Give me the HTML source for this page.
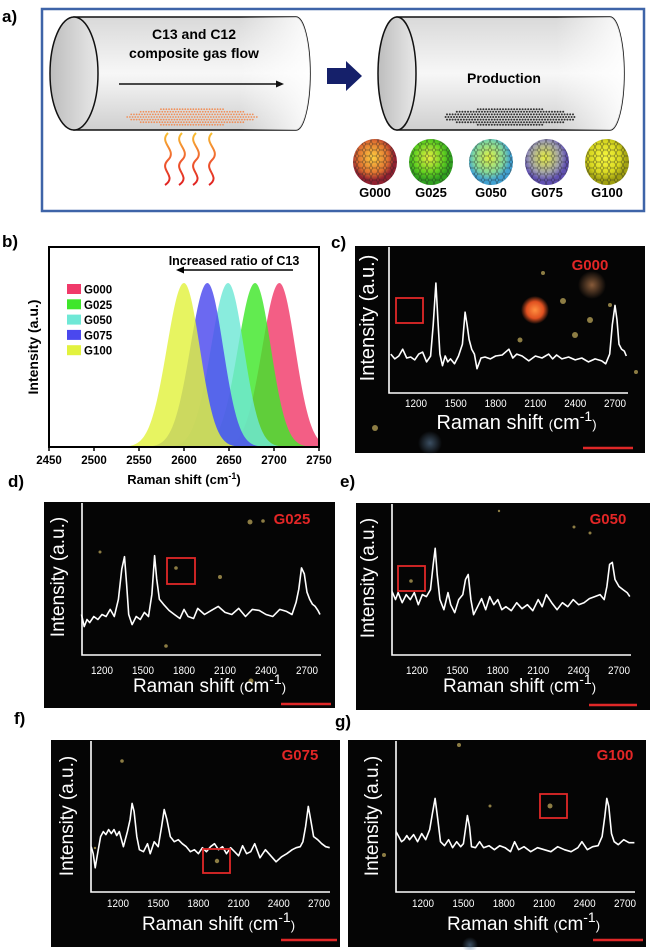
<!DOCTYPE html>
<html><head><meta charset="utf-8"><style>
html,body{margin:0;padding:0;background:#fff;width:650px;height:950px;overflow:hidden}
svg{display:block;font-family:"Liberation Sans",Arial,sans-serif}
</style></head><body>
<svg id="fig" width="650" height="950" viewBox="0 0 650 950" xmlns="http://www.w3.org/2000/svg">
<defs>
<linearGradient id="cyl" x1="0" y1="0" x2="0" y2="1"><stop offset="0" stop-color="#d9d9d9"/><stop offset="0.5" stop-color="#f7f7f7"/><stop offset="1" stop-color="#cfcfcf"/></linearGradient>
<linearGradient id="cylh" x1="0" y1="0" x2="1" y2="0"><stop offset="0" stop-color="#fff" stop-opacity="0"/><stop offset="0.7" stop-color="#fff" stop-opacity="0"/><stop offset="1" stop-color="#fff" stop-opacity="0.9"/></linearGradient>
<linearGradient id="endc" x1="0" y1="0" x2="1" y2="0"><stop offset="0" stop-color="#bdbdbd"/><stop offset="1" stop-color="#e8e8e8"/></linearGradient>
<linearGradient id="heat" x1="0" y1="0" x2="0" y2="1"><stop offset="0" stop-color="#f8c030"/><stop offset="0.5" stop-color="#f06030"/><stop offset="1" stop-color="#e02020"/></linearGradient>
<radialGradient id="s0" cx="0.45" cy="0.4"><stop offset="0" stop-color="#ffd040"/><stop offset="0.7" stop-color="#e07030"/><stop offset="1" stop-color="#902030"/></radialGradient>
<radialGradient id="s1" cx="0.45" cy="0.4"><stop offset="0" stop-color="#e8f040"/><stop offset="0.7" stop-color="#60d020"/><stop offset="1" stop-color="#30a020"/></radialGradient>
<radialGradient id="s2" cx="0.45" cy="0.4"><stop offset="0" stop-color="#e0f040"/><stop offset="0.7" stop-color="#80d8a0"/><stop offset="1" stop-color="#40a0d0"/></radialGradient>
<radialGradient id="s3" cx="0.45" cy="0.4"><stop offset="0" stop-color="#e8f040"/><stop offset="0.7" stop-color="#a0a0b0"/><stop offset="1" stop-color="#6050b0"/></radialGradient>
<radialGradient id="s4" cx="0.45" cy="0.4"><stop offset="0" stop-color="#f8f840"/><stop offset="0.7" stop-color="#d8d820"/><stop offset="1" stop-color="#a0a010"/></radialGradient>
<pattern id="hex" width="7" height="6" patternUnits="userSpaceOnUse"><path d="M1.75 0 L5.25 0 L7 3 L5.25 6 L1.75 6 L0 3 Z" fill="none" stroke="#222" stroke-opacity="0.55" stroke-width="0.7"/></pattern>
<radialGradient id="blob" cx="0.5" cy="0.5"><stop offset="0" stop-color="#ff9040"/><stop offset="0.6" stop-color="#e05020"/><stop offset="1" stop-color="#e05020" stop-opacity="0"/></radialGradient>
<radialGradient id="blob2" cx="0.5" cy="0.5"><stop offset="0" stop-color="#c08050" stop-opacity="0.7"/><stop offset="1" stop-color="#c08050" stop-opacity="0"/></radialGradient>
<radialGradient id="blob3" cx="0.5" cy="0.5"><stop offset="0" stop-color="#6080a0" stop-opacity="0.6"/><stop offset="1" stop-color="#6080a0" stop-opacity="0"/></radialGradient>
</defs>

<!-- Panel a -->
<g>
<text x="2" y="22" font-size="17" font-weight="bold">a)</text>
<rect x="42" y="9" width="602" height="202" fill="none" stroke="#3e64a8" stroke-width="2.5"/>
<g>
<path d="M74 17 L296 17 A14 56.5 0 0 1 296 130 L74 130 Z" fill="url(#cyl)" stroke="#111" stroke-width="1.5"/>
<path d="M74 17 L296 17 A14 56.5 0 0 1 296 130 L74 130 Z" fill="url(#cylh)"/>
<ellipse cx="74" cy="73.5" rx="24" ry="56.5" fill="url(#endc)" stroke="#111" stroke-width="1.5"/>
</g>
<text x="194" y="39" font-size="14" font-weight="bold" text-anchor="middle">C13 and C12</text>
<text x="194" y="58" font-size="14" font-weight="bold" text-anchor="middle">composite gas  flow</text>
<line x1="119" y1="84" x2="278" y2="84" stroke="#111" stroke-width="1.6"/>
<polygon points="284,84 276,80.5 276,87.5" fill="#111"/>
<g id="dotsL"></g>
<g fill="none" stroke="url(#heat)" stroke-width="2">
<path d="M168 133 C158 143,178 150,168 160 C158 170,178 176,165 185"/>
<path d="M182 133 C172 143,192 150,182 160 C172 170,192 176,179 185"/>
<path d="M196 133 C186 143,206 150,196 160 C186 170,206 176,193 185"/>
<path d="M212 133 C202 143,222 150,212 160 C202 170,222 176,209 185"/>
</g>
<polygon points="327,68 346,68 346,61 362,76 346,91 346,84 327,84" fill="#15206a"/>
<g>
<path d="M397 17 L610 17 A14 56.5 0 0 1 610 130 L397 130 Z" fill="url(#cyl)" stroke="#111" stroke-width="1.5"/>
<path d="M397 17 L610 17 A14 56.5 0 0 1 610 130 L397 130 Z" fill="url(#cylh)"/>
<ellipse cx="397" cy="73.5" rx="19" ry="56.5" fill="url(#endc)" stroke="#111" stroke-width="1.5"/>
</g>
<text x="504" y="83" font-size="14" font-weight="bold" text-anchor="middle">Production</text>
<g id="dotsR"></g>
<g id="spheres"></g>
</g>

<!-- Panel b -->
<g id="panelB">
<text x="2" y="247" font-size="17" font-weight="bold">b)</text>
</g>

<!-- spectra panels -->
<g id="spectra"></g>
<text x="331" y="248" font-size="17" font-weight="bold">c)</text>
<text x="8" y="487" font-size="17" font-weight="bold">d)</text>
<text x="340" y="487" font-size="17" font-weight="bold">e)</text>
<text x="14" y="724" font-size="17" font-weight="bold">f)</text>
<text x="335" y="727" font-size="17" font-weight="bold">g)</text>
</svg>
<script>
// ---- Panel b data ----
const bSamples = ["G000","G025","G050","G075","G100"];
const bPeakCenters = [2706, 2679, 2649, 2626, 2600];
const bPeakHeights = [1, 1, 1, 1, 1];
const bXTicks = [2450, 2500, 2550, 2600, 2650, 2700, 2750];
const bColors = ["#f03a6a","#3fe62a","#6fe8d6","#4a48ee","#e2f23e"];

// ---- Spectra data (a.u.) ----
const cWn = [1010,1040,1070,1100,1130,1160,1190,1220,1250,1280,1310,1330,1350,1365,1380,1400,1420,1440,1460,1490,1520,1550,1570,1585,1600,1620,1640,1660,1690,1720,1760,1800,1850,1900,1930,1960,2000,2050,2100,2150,2200,2230,2260,2300,2350,2400,2450,2500,2550,2600,2630,2660,2680,2700,2715,2730,2750,2770,2785];
const cInt = [40,35,38,45,36,37,34,40,42,32,38,70,113,75,40,28,38,32,35,30,38,50,83,70,55,45,40,25,36,37,35,38,39,45,36,40,38,33,38,36,40,35,39,35,37,34,36,32,35,33,30,40,70,90,75,50,45,43,38];
const dWn = [1050,1070,1090,1110,1140,1170,1200,1230,1260,1290,1320,1345,1365,1380,1395,1420,1450,1480,1510,1540,1565,1585,1600,1620,1650,1690,1730,1770,1800,1830,1870,1900,1950,2000,2050,2100,2150,2200,2250,2300,2350,2400,2450,2500,2550,2590,2620,2640,2660,2680,2700,2720,2740,2760,2780,2795];
const dInt = [40,28,35,32,38,35,40,38,45,38,55,85,97,70,40,30,38,35,42,38,60,98,75,55,50,44,40,36,45,38,36,46,40,44,48,42,40,46,38,45,44,40,38,45,43,40,52,65,86,80,62,55,50,48,44,40];
const eWn = [1015,1040,1060,1090,1120,1150,1180,1210,1240,1270,1300,1320,1335,1350,1370,1400,1430,1450,1480,1510,1540,1560,1580,1600,1620,1650,1680,1710,1740,1770,1800,1830,1860,1900,1940,1980,2020,2060,2100,2130,2160,2200,2240,2280,2320,2360,2400,2440,2480,2520,2560,2590,2610,2630,2650,2670,2700,2730,2760,2780];
const eInt = [63,55,62,52,60,55,62,50,60,58,65,90,106,80,55,45,62,50,42,55,60,75,80,55,40,48,56,45,58,50,55,45,48,44,52,46,50,44,55,48,60,52,45,52,48,55,50,52,56,58,60,55,68,90,92,75,68,65,62,58];
const fWn = [1000,1015,1030,1050,1070,1090,1110,1130,1150,1170,1190,1210,1240,1270,1290,1305,1320,1340,1360,1390,1420,1440,1470,1500,1525,1545,1565,1590,1620,1650,1680,1710,1740,1770,1800,1830,1860,1890,1920,1950,1980,2010,2040,2070,2100,2130,2160,2190,2220,2260,2300,2340,2380,2420,2460,2500,2530,2560,2580,2600,2620,2640,2660,2690,2720,2750,2780];
const fInt = [45,38,24,40,55,60,57,62,58,62,56,60,45,60,72,88,80,55,42,40,48,38,50,45,65,82,72,55,50,52,48,45,40,42,38,44,40,45,48,42,45,38,44,40,36,46,38,40,48,34,42,36,30,35,38,42,44,45,50,65,85,70,55,52,48,45,44];
const gWn = [1000,1020,1040,1060,1080,1100,1130,1160,1190,1220,1250,1270,1290,1310,1330,1360,1390,1420,1450,1480,1500,1515,1530,1545,1560,1590,1620,1650,1690,1730,1770,1810,1850,1880,1910,1950,2000,2050,2100,2150,2200,2250,2300,2350,2380,2420,2460,2500,2530,2550,2565,2580,2600,2620,2650,2690,2730,2770];
const gInt = [60,55,50,52,56,52,57,50,58,52,62,78,93,72,50,46,52,44,50,45,48,62,76,65,45,44,50,44,46,42,46,44,40,50,42,45,40,44,42,40,45,42,40,44,50,42,45,46,55,75,93,85,58,50,47,52,49,49];
const spectraTicks = [1200, 1500, 1800, 2100, 2400, 2700];

const NS = "http://www.w3.org/2000/svg";
function mk(tag, attrs, parent){
  const e = document.createElementNS(NS, tag);
  for (const k in attrs) e.setAttribute(k, attrs[k]);
  if (parent) parent.appendChild(e);
  return e;
}

// ---- panel a decorations ----
(function(){
  const L = document.getElementById('dotsL');
  for (let r=-3;r<=3;r++){ for(let c=-24;c<=24;c++){
    const x = 192 + c*2.7 + (r%2?1.35:0), y = 117 + r*2.6;
    if (((x-192)/66)**2 + ((y-117)/9)**2 < 1){
      mk('circle',{cx:x,cy:y,r:0.9,fill:'#f0905a'},L);
    }}}
  const R = document.getElementById('dotsR');
  for (let r=-3;r<=3;r++){ for(let c=-24;c<=24;c++){
    const x = 510 + c*2.8 + (r%2?1.4:0), y = 117 + r*2.6;
    if (((x-510)/66)**2 + ((y-117)/9)**2 < 1){
      mk('circle',{cx:x,cy:y,r:1,fill:'#333'},R);
    }}}
  const S = document.getElementById('spheres');
  const cx = [375,431,491,547,607];
  for (let i=0;i<5;i++){
    const e1 = mk('ellipse',{cx:cx[i],cy:162,rx:22,ry:23,fill:'url(#s'+i+')'},S);
    
    
    mk('ellipse',{cx:cx[i],cy:162,rx:22,ry:23,fill:'url(#hex)'},S);
    const t = mk('text',{x:cx[i],y:197,'font-size':13,'font-weight':'bold','text-anchor':'middle'},S);
    t.textContent = bSamples[i];
    
    
  }
})();

// ---- panel b chart ----
(function(){
  const G = document.getElementById('panelB');
  const x0=49,x1=319,yTop=247,yBot=447;
  const xs = v => x0 + (v-2450)/(2750-2450)*(x1-x0);
  const ys = v => yBot - v*(yBot-283);
  const clip = mk('clipPath',{id:'bclip'},G);
  mk('rect',{x:x0,y:yTop,width:x1-x0,height:yBot-yTop},clip);
  const areas = mk('g',{'clip-path':'url(#bclip)'},G);
  for (let i=0;i<bPeakCenters.length;i++){
    let d = '';
    for (let w=2450; w<=2750; w+=1){
      const s = w < bPeakCenters[i] ? 19 : 17.5;
      const v = bPeakHeights[i]*Math.exp(-0.5*((w-bPeakCenters[i])/s)**2);
      d += (d?'L':'M') + xs(w).toFixed(1)+' '+ys(v).toFixed(1);
    }
    d += 'L'+xs(2750)+' '+yBot+'L'+xs(2450)+' '+yBot+'Z';
    const p = mk('path',{d:d,fill:bColors[i],'fill-opacity':0.82},areas);
    
    
  }
  const fr = mk('rect',{x:x0,y:yTop,width:x1-x0,height:yBot-yTop,fill:'none',stroke:'#000','stroke-width':2},G);
  
  
  bXTicks.forEach(t=>{
    mk('line',{x1:xs(t),x2:xs(t),y1:yBot,y2:yBot+4,stroke:'#000','stroke-width':1.5},G);
    const tx = mk('text',{x:xs(t),y:yBot+17,'font-size':11.5,'font-weight':'bold','text-anchor':'middle'},G);
    tx.textContent = t;
    
    
  });
  const xt = mk('text',{x:184,y:484,'font-size':13,'font-weight':'bold','text-anchor':'middle'},G);
  xt.innerHTML = 'Raman shift (cm<tspan dy="-5" font-size="9">-1</tspan><tspan dy="5">)</tspan>';
  
  
  const yt = mk('text',{x:0,y:0,'font-size':14,'font-weight':'bold','text-anchor':'middle',transform:'translate(38,347) rotate(-90)'},G);
  yt.textContent = 'Intensity (a.u.)';
  
  
  for (let i=0;i<bSamples.length;i++){
    const y = 289 + i*15.3;
    const sw = mk('rect',{x:67,y:y-5,width:14,height:10,fill:bColors[i]},G);
    
    
    const lt = mk('text',{x:84,y:y+4.5,'font-size':11.5,'font-weight':'bold'},G);
    lt.textContent = bSamples[i];
    
    
  }
  const an = mk('text',{x:234,y:265,'font-size':12.5,'font-weight':'bold','text-anchor':'middle'},G);
  an.textContent = 'Increased ratio of  C13';
  
  
  const ar = mk('line',{x1:293,y1:270,x2:182,y2:270,stroke:'#000','stroke-width':1.6},G);
  
  
  mk('polygon',{points:'176,270 184,266.5 184,273.5',fill:'#000'},G);
})();

// ---- spectra panels ----
const panels = [
 {id:'c',name:'G000',wn:cWn,iv:cInt,box:[355,246,645,453],ax:389,top:247,bot:393,xr:628,t1:416,t2:615,lab:[590,270],rb:[396,298,423,323],sb:[583,633,448],yl:[367,318],tl:403,ttl:429,fs:20,dots:[[535,310,14,'blob'],[592,285,14,'blob2'],[430,443,12,'blob3'],[520,340,2.5],[563,301,3],[575,335,3],[610,305,2],[543,273,2],[375,428,3],[636,372,2],[590,320,3]]},
 {id:'d',name:'G025',wn:dWn,iv:dInt,box:[44,502,335,708],ax:82,top:503,bot:655,xr:321,t1:102,t2:307,lab:[292,524],rb:[167,558,195,584],sb:[281,331,704],yl:[57,577],tl:670,ttl:692,fs:19,dots:[[176,568,1.8],[220,577,2],[250,522,2.5],[263,521,1.8],[251,681,2.5],[166,646,1.8],[100,552,1.5]]},
 {id:'e',name:'G050',wn:eWn,iv:eInt,box:[356,503,650,710],ax:392,top:504,bot:655,xr:631,t1:417,t2:619,lab:[608,524],rb:[398,566,425,591],sb:[589,637,705],yl:[367,578],tl:670,ttl:692,fs:19,dots:[[411,581,1.8],[590,533,1.5],[574,527,1.5],[499,511,1.2]]},
 {id:'f',name:'G075',wn:fWn,iv:fInt,box:[51,740,340,947],ax:91,top:741,bot:892,xr:330,t1:118,t2:319,lab:[300,760],rb:[203,849,230,873],sb:[281,337,940],yl:[66,816],tl:903,ttl:930,fs:19,dots:[[217,861,2.2],[122,761,1.8],[95,848,1.2]]},
 {id:'g',name:'G100',wn:gWn,iv:gInt,box:[348,740,646,947],ax:396,top:741,bot:892,xr:635,t1:423,t2:625,lab:[615,760],rb:[540,794,567,818],sb:[593,643,940],yl:[371,816],tl:903,ttl:930,fs:19,dots:[[550,806,2.5],[459,745,2],[490,806,1.5],[384,855,2],[470,945,8,'blob3']]}
];
(function(){
  const S = document.getElementById('spectra');
  panels.forEach(P=>{
    const g = mk('g',{},S);
    
    
    const [bx0,by0,bx1,by1] = P.box;
    const bg = mk('rect',{x:bx0,y:by0,width:bx1-bx0,height:by1-by0,fill:'#050505'},g);
    
    
    P.dots.forEach(d=>{
      if (d[3]) mk('circle',{cx:d[0],cy:d[1],r:d[2],fill:'url(#'+d[3]+')'},g);
      else mk('circle',{cx:d[0],cy:d[1],r:d[2],fill:'#c8b060','fill-opacity':0.7},g);
    });
    const xs = w => P.t1 + (w-1200)*(P.t2-P.t1)/1500;
    const ys = v => P.bot - v*(P.bot-P.top)/150;
    mk('polyline',{points:`${P.ax},${P.top} ${P.ax},${P.bot} ${P.xr},${P.bot}`,fill:'none',stroke:'#fff','stroke-width':1.6},g);
    spectraTicks.forEach(t=>{
      const tx = mk('text',{x:xs(t),y:P.tl+4,'font-size':11,fill:'#fff','text-anchor':'middle',transform:`translate(${xs(t)},0) scale(0.9,1) translate(${-xs(t)},0)`},g);
      tx.textContent = t;
      
      
    });
    let pts = P.wn.map((w,i)=>xs(w).toFixed(1)+','+ys(P.iv[i]).toFixed(1)).join(' ');
    const line = mk('polyline',{points:pts,fill:'none',stroke:'#fff','stroke-width':1.6,'stroke-linejoin':'round'},g);
    
    
    const xt = mk('text',{x:(P.ax+P.xr)/2+8,y:P.ttl,'font-size':P.fs,fill:'#fff','text-anchor':'middle'},g);
    xt.innerHTML = 'Raman shift <tspan font-size="13">(</tspan>cm<tspan dy="-8" font-size="14">-1</tspan><tspan dy="8" font-size="13">)</tspan>';
    
    
    const yt = mk('text',{x:0,y:0,'font-size':P.fs,fill:'#fff','text-anchor':'middle',transform:`translate(${P.yl[0]+7},${P.yl[1]}) rotate(-90)`},g);
    yt.textContent = 'Intensity (a.u.)';
    
    
    const lb = mk('text',{x:P.lab[0],y:P.lab[1],'font-size':15,'font-weight':'bold',fill:'#e32626','text-anchor':'middle'},g);
    lb.textContent = P.name;
    
    
    const rb = mk('rect',{x:P.rb[0],y:P.rb[1],width:P.rb[2]-P.rb[0],height:P.rb[3]-P.rb[1],fill:'none',stroke:'#e02828','stroke-width':1.8},g);
    
    
    const sb = mk('line',{x1:P.sb[0],x2:P.sb[1],y1:P.sb[2],y2:P.sb[2],stroke:'#e02828','stroke-width':2.5},g);
    
    
  });
})();
</script>
</body></html>
